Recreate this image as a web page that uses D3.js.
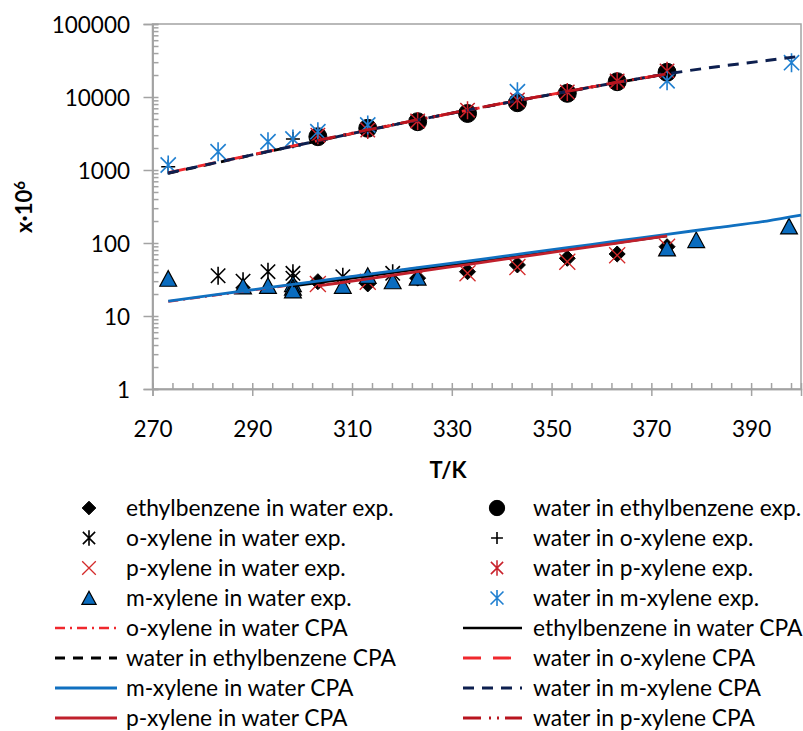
<!DOCTYPE html>
<html>
<head>
<meta charset="utf-8">
<script src="https://cdn.jsdelivr.net/npm/d3@7"></script>
<style>
  body { margin: 0; background: #fff; }
  svg { display: block; }
  text { font-family: Lato, "Open Sans", sans-serif; fill: #000; }
</style>
</head>
<body>
<svg id="chart" width="803" height="731"></svg>
<script>
// ---------------- data: temperature T (K), mole fraction x·10^6 ----------------
// experimental points
const ebInWaterT   = [303.15, 313.15, 323.15, 333.15, 343.15, 353.15, 363.15, 373.15];
const ebInWaterX   = [29.5, 27.5, 33, 40.4, 50, 61.7, 70.7, 89];
const waterInEbT   = [303.15, 313.15, 323.15, 333.15, 343.15, 353.15, 363.15, 373.15];
const waterInEbX   = [2860, 3730, 4590, 5950, 8350, 11230, 16200, 21800];
const oxInWaterT   = [283.15, 288.15, 293.15, 298.15, 298.15, 308.15, 318.15];
const oxInWaterX   = [35.6, 30, 40.4, 38.5, 33, 34.5, 38.5];
const waterInOxT   = [273.15, 298.15];
const waterInOxX   = [1110, 2660];
const pxInWaterT   = [303.15, 313.15, 323.15, 333.15, 343.15, 353.15, 363.15, 373.15];
const pxInWaterX   = [27.5, 29.5, 35, 38.5, 47, 55.5, 68, 89];
const waterInPxT   = [303.15, 313.15, 323.15, 333.15, 343.15, 353.15, 363.15, 373.15];
const waterInPxX   = [3000, 3530, 4700, 6600, 9100, 11700, 16600, 22800];
const mxInWaterT   = [273.15, 288.15, 293.15, 298.15, 298.15, 298.15, 308.15, 313.15, 318.15, 323.15, 373.15, 379.0, 397.6];
const mxInWaterX   = [32.5, 25.5, 25.9, 27.5, 24.5, 22.5, 26, 35.5, 30, 33.7, 84.6, 110, 169];
const waterInMxT   = [273.15, 283.15, 293.15, 298.15, 303.15, 313.15, 343.15, 373.15, 398.1];
const waterInMxX   = [1170, 1780, 2440, 2660, 3350, 4130, 11800, 16700, 29500];

// CPA model curves
const cpaOxInWaterT    = [273.15, 283.15, 293.15, 303.15, 313.15, 323.15];
const cpaOxInWaterX    = [15.8, 19.5, 24.1, 29.7, 36.7, 45.3];
const cpaEbInWaterT    = [298.15, 303.15, 313.15, 323.15, 333.15, 343.15, 353.15, 363.15, 373.15];
const cpaEbInWaterX    = [25.8, 28.6, 35.3, 43.6, 53.8, 66.4, 82.0, 101, 125];
const cpaWaterInEbT    = [273.15, 283.15, 293.15, 303.15, 313.15, 323.15, 333.15, 343.15, 353.15, 363.15, 373.15];
const cpaWaterInEbX    = [900, 1270, 1780, 2500, 3500, 4850, 6600, 8900, 11800, 15800, 20600];
const cpaWaterInOxT    = [273.15, 283.15, 293.15, 303.15, 313.15, 323.15, 333.15, 343.15, 353.15, 363.15, 373.15];
const cpaWaterInOxX    = [920, 1290, 1800, 2520, 3520, 4830, 6600, 8920, 11900, 15900, 20700];
const cpaMxInWaterT    = [273.15, 283.15, 293.15, 303.15, 313.15, 323.15, 333.15, 343.15, 353.15, 363.15, 373.15, 383.15, 393.15, 400];
const cpaMxInWaterX    = [16.0, 19.8, 24.4, 30.1, 37.2, 45.9, 56.6, 69.9, 86.3, 106.5, 131.5, 162, 200, 240];
const cpaWaterInMxT    = [273.15, 283.15, 293.15, 303.15, 313.15, 323.15, 333.15, 343.15, 353.15, 363.15, 373.15, 383.15, 393.15, 400];
const cpaWaterInMxX    = [910, 1280, 1790, 2510, 3510, 4840, 6610, 8910, 11900, 15800, 20700, 26000, 31600, 36300];
const cpaPxInWaterT    = [303.15, 313.15, 323.15, 333.15, 343.15, 353.15, 363.15, 373.15];
const cpaPxInWaterX    = [25.8, 32.3, 40.5, 50.7, 63.5, 79.6, 99.8, 125];
const cpaWaterInPxT    = [303.15, 313.15, 323.15, 333.15, 343.15, 353.15, 363.15, 373.15];
const cpaWaterInPxX    = [2540, 3550, 4880, 6650, 8950, 11950, 15900, 20800];

// axis ticks
const xMajorTicks = [270, 290, 310, 330, 350, 370, 390];
const yMajorTicks = [1, 10, 100, 1000, 10000, 100000];

// ---------------- layout ----------------
const svg = d3.select("#chart");
const plot = { left: 152.5, right: 801, top: 24, bottom: 389 };
const x = d3.scaleLinear().domain([270, 400]).range([plot.left, plot.right]);
const y = d3.scaleLog().domain([1, 100000]).range([plot.bottom, plot.top]);

const AXIS = "#a3a3a3";

// plot frame
svg.append("rect")
  .attr("x", plot.left).attr("y", plot.top)
  .attr("width", plot.right - plot.left).attr("height", plot.bottom - plot.top)
  .attr("fill", "none").attr("stroke", AXIS).attr("stroke-width", 1.5);

// minor ticks
const xMinorTicks = d3.range(270, 401, 4).filter(v => !xMajorTicks.includes(v) && v < 400);
const yMinorTicks = [];
for (let d = 1; d < 100000; d *= 10) for (let k = 2; k <= 9; k++) yMinorTicks.push(d * k);

function styleAxis(g) {
  g.select(".domain").attr("stroke", AXIS).attr("stroke-width", 1.5);
  g.selectAll(".tick line").attr("stroke", AXIS).attr("stroke-width", 1.5);
}

// x axis: major ticks crossing, minor ticks inside
svg.append("g").attr("transform", `translate(0,${plot.bottom})`)
  .call(d3.axisBottom(x).tickValues(xMinorTicks.concat(xMajorTicks)).tickSize(-6).tickFormat(""))
  .call(styleAxis);
const xAxisG = svg.append("g").attr("transform", `translate(0,${plot.bottom})`)
  .call(d3.axisBottom(x).tickValues(xMajorTicks).tickSize(7).tickFormat(d3.format("d")))
  .call(styleAxis);
xAxisG.selectAll(".tick text")
  .attr("y", 48).attr("dy", 0)
  .style("font-size", "22.5px").style("font-family", "Lato, 'Open Sans', sans-serif").attr("fill", "#000");

// y axis
svg.append("g").attr("transform", `translate(${plot.left},0)`)
  .call(d3.axisLeft(y).tickValues(yMinorTicks.concat(yMajorTicks)).tickSize(-6).tickFormat(""))
  .call(styleAxis);
const yAxisG = svg.append("g").attr("transform", `translate(${plot.left},0)`)
  .call(d3.axisLeft(y).tickValues(yMajorTicks).tickSize(9).tickFormat(d3.format("d")))
  .call(styleAxis);
yAxisG.selectAll(".tick text")
  .attr("x", -22.5).attr("dy", "0.36em")
  .style("font-size", "22.5px").style("font-family", "Lato, 'Open Sans', sans-serif").attr("fill", "#000");

// axis titles
svg.append("text")
  .attr("x", 448).attr("y", 478)
  .attr("text-anchor", "middle")
  .style("font-size", "22px").style("font-weight", "bold")
  .text("T/K");

const yTitle = svg.append("text")
  .attr("transform", "translate(32,207) rotate(-90)")
  .attr("text-anchor", "middle")
  .style("font-size", "22px").style("font-weight", "bold");
yTitle.append("tspan").text("x·10");
yTitle.append("tspan").attr("dy", "-0.45em").style("font-size", "15px").text("6");

// ---------------- marker shapes ----------------
const shapes = {
  diamond: s => `M0,${-s}L${s},0L0,${s}L${-s},0Z`,
  circle:  s => `M${s},0A${s},${s} 0 1,1 ${-s},0A${s},${s} 0 1,1 ${s},0Z`,
  triangle: s => `M0,${-s}L${s * 1.05},${s * 0.95}L${-s * 1.05},${s * 0.95}Z`,
  star: s => `M${-s * 0.8},${-s * 0.8}L${s * 0.8},${s * 0.8}M${-s * 0.8},${s * 0.8}L${s * 0.8},${-s * 0.8}M0,${-s}L0,${s}`,
  cross: s => `M${-s},${-s}L${s},${s}M${-s},${s}L${s},${-s}`,
  plus: s => `M${-s},0L${s},0M0,${-s}L0,${s}`
};

// series styles
const expSeries = [
  { name: "ethylbenzene in water exp.", T: ebInWaterT, X: ebInWaterX, shape: "diamond", size: 8, fill: "#000", stroke: "#000", sw: 1 },
  { name: "water in ethylbenzene exp.", T: waterInEbT, X: waterInEbX, shape: "circle", size: 9, fill: "#000", stroke: "#000", sw: 1 },
  { name: "o-xylene in water exp.", T: oxInWaterT, X: oxInWaterX, shape: "star", size: 9, fill: "none", stroke: "#000", sw: 1.6 },
  { name: "water in o-xylene exp.", T: waterInOxT, X: waterInOxX, shape: "plus", size: 7, fill: "none", stroke: "#000", sw: 1.6 },
  { name: "p-xylene in water exp.", T: pxInWaterT, X: pxInWaterX, shape: "cross", size: 8, fill: "none", stroke: "#d42a2a", sw: 1.3 },
  { name: "water in p-xylene exp.", T: waterInPxT, X: waterInPxX, shape: "star", size: 9, fill: "none", stroke: "#c8202a", sw: 1.5 },
  { name: "m-xylene in water exp.", T: mxInWaterT, X: mxInWaterX, shape: "triangle", size: 8, fill: "#0a6cbf", stroke: "#000", sw: 1.2 },
  { name: "water in m-xylene exp.", T: waterInMxT, X: waterInMxX, shape: "star", size: 9.5, fill: "none", stroke: "#1f7fd0", sw: 1.6 }
];

const cpaSeries = [
  { name: "o-xylene in water CPA", T: cpaOxInWaterT, X: cpaOxInWaterX, color: "#f0282d", dash: "10,5,2,5", sw: 2.6 },
  { name: "ethylbenzene in water CPA", T: cpaEbInWaterT, X: cpaEbInWaterX, color: "#000", dash: null, sw: 2.6 },
  { name: "water in ethylbenzene CPA", T: cpaWaterInEbT, X: cpaWaterInEbX, color: "#000", dash: "10,8", sw: 2.8 },
  { name: "water in o-xylene CPA", T: cpaWaterInOxT, X: cpaWaterInOxX, color: "#f0282d", dash: "18,12", sw: 2.8 },
  { name: "m-xylene in water CPA", T: cpaMxInWaterT, X: cpaMxInWaterX, color: "#1070c0", dash: null, sw: 2.8 },
  { name: "water in m-xylene CPA", T: cpaWaterInMxT, X: cpaWaterInMxX, color: "#0d1f4f", dash: "11,8", sw: 2.9 },
  { name: "p-xylene in water CPA", T: cpaPxInWaterT, X: cpaPxInWaterX, color: "#c0202c", dash: null, sw: 2.8 },
  { name: "water in p-xylene CPA", T: cpaWaterInPxT, X: cpaWaterInPxX, color: "#b8141e", dash: "18,8,2,6,2,6", sw: 2.8 }
];

// ---------------- draw experimental markers ----------------
const plotG = svg.append("g");
expSeries.forEach(s => {
  const pts = s.T.map((t, i) => ({ t, v: s.X[i] }));
  plotG.append("g").selectAll("path").data(pts).join("path")
    .attr("transform", d => `translate(${x(d.t)},${y(d.v)})`)
    .attr("d", shapes[s.shape](s.size))
    .attr("fill", s.fill).attr("stroke", s.stroke).attr("stroke-width", s.sw);
});

// ---------------- draw CPA curves ----------------
const line = d3.line().x(d => x(d.t)).y(d => y(d.v)).curve(d3.curveMonotoneX);
cpaSeries.forEach(s => {
  const pts = s.T.map((t, i) => ({ t, v: s.X[i] }));
  plotG.append("path").datum(pts)
    .attr("d", line)
    .attr("fill", "none").attr("stroke", s.color).attr("stroke-width", s.sw)
    .attr("stroke-dasharray", s.dash);
});

// ---------------- legend ----------------
const legendOrder = [
  expSeries[0], expSeries[1], expSeries[2], expSeries[3],
  expSeries[4], expSeries[5], expSeries[6], expSeries[7],
  cpaSeries[0], cpaSeries[1], cpaSeries[2], cpaSeries[3],
  cpaSeries[4], cpaSeries[5], cpaSeries[6], cpaSeries[7]
];
const cols = [
  { marker: 89, lineFrom: 55, lineTo: 117, text: 126 },
  { marker: 497, lineFrom: 463, lineTo: 522, text: 533 }
];
const legend = svg.append("g");
legendOrder.forEach((s, i) => {
  const col = cols[i % 2];
  const rowY = 508 + 30 * Math.floor(i / 2);
  if (s.shape) {
    legend.append("path")
      .attr("transform", `translate(${col.marker},${rowY})`)
      .attr("d", shapes[s.shape](s.size * 0.85))
      .attr("fill", s.fill).attr("stroke", s.stroke).attr("stroke-width", s.sw);
  } else {
    legend.append("line")
      .attr("x1", col.lineFrom).attr("x2", col.lineTo)
      .attr("y1", rowY).attr("y2", rowY)
      .attr("stroke", s.color).attr("stroke-width", s.sw)
      .attr("stroke-dasharray", s.dash);
  }
  legend.append("text")
    .attr("x", col.text).attr("y", rowY).attr("dy", "0.35em")
    .style("font-size", "22.8px")
    .text(s.name);
});
</script>
</body>
</html>
